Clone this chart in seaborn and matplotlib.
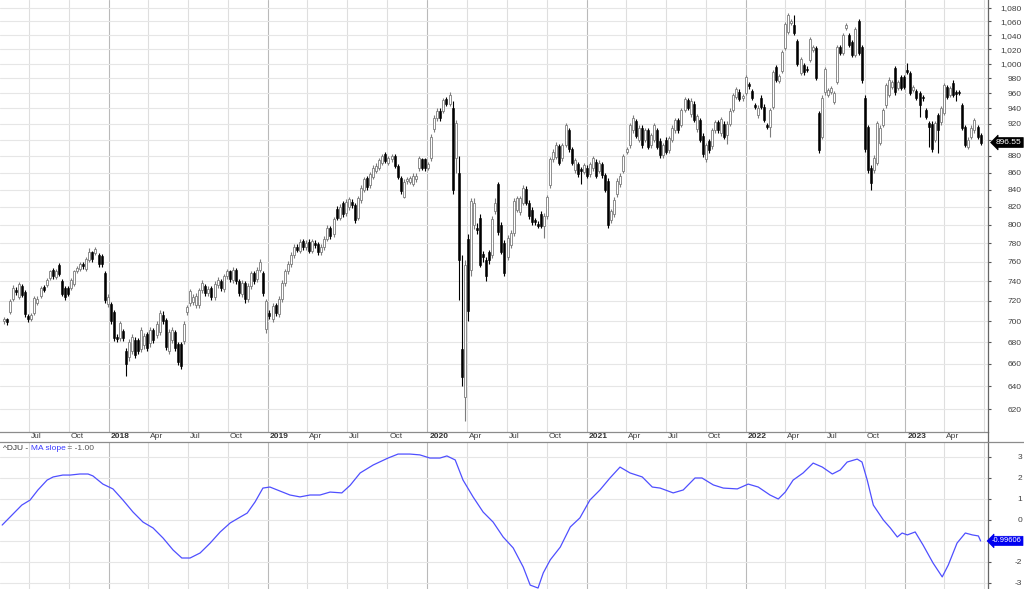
import numpy as np
import pandas as pd
import matplotlib
matplotlib.use("Agg")
import matplotlib.pyplot as plt
import matplotlib.dates as mdates
import matplotlib.ticker as mticker
import matplotlib.transforms as mtrans
from matplotlib.lines import Line2D
from matplotlib.offsetbox import TextArea, HPacker, AnchoredOffsetbox
import seaborn as sns

# ---------------- data (weekly ^DJU candles) ----------------
first_week = "2017-05-05"

opens = [
    700,702,709,722,731,724,735,729,705,702,
    708,718,725,734,736,743,752,744,757,740,
    733,733,733,737,750,753,758,753,762,770,
    769,767,766,748,717,717,709,685,684,691,
    672,666,672,682,682,674,677,688,679,692,
    687,690,706,701,672,682,690,678,678,681,
    709,718,719,716,716,731,735,728,733,724,
    736,740,732,745,750,741,752,740,727,738,
    722,735,748,742,752,748,693,708,702,716,
    707,722,738,750,758,767,776,772,782,776,
    781,772,780,779,770,776,785,796,790,818,
    808,824,813,820,826,822,808,828,840,853,
    845,855,862,866,872,882,872,876,880,868,
    854,832,850,849,847,852,865,876,876,866,
    877,913,927,937,937,952,946,940,877,859,
    674,630,785,752,800,797,808,768,762,770,
    767,815,846,800,780,765,778,791,817,814,
    825,841,825,817,805,801,812,799,810,845,
    876,879,892,877,894,912,888,863,870,864,
    861,866,858,865,873,862,870,857,850,805,
    812,835,846,862,885,893,912,923,900,915,
    900,912,893,900,912,899,881,900,887,900,
    912,925,919,938,951,932,946,913,925,905,
    876,898,892,912,922,908,920,906,920,938,
    955,962,953,960,972,963,944,931,954,942,
    918,916,942,995,976,990,1022,1045,1058,1055,
    1032,987,998,993,1005,1019,1022,934,904,961,
    958,962,948,975,1023,1015,1051,1040,1030,1012,
    1061,1023,954,916,866,863,872,896,919,944,
    958,968,994,967,982,982,991,987,964,963,
    960,955,938,921,920,900,931,922,934,968,
    958,974,961,961,944,916,891,904,912,916,
    906,
]

closes = [
    702,699,720,733,729,737,726,707,702,706,
    723,722,733,731,741,750,745,751,747,727,
    724,727,741,750,754,758,756,763,770,763,
    774,758,758,721,724,700,684,683,698,684,
    660,680,685,668,672,692,686,675,692,682,
    697,708,700,676,690,692,675,662,658,697,
    714,730,724,725,731,738,728,732,724,737,
    741,733,745,750,742,752,740,728,738,722,
    735,748,740,752,760,728,720,705,715,708,
    722,738,750,758,767,776,773,781,776,780,
    772,782,778,770,776,785,797,788,806,808,
    820,812,826,829,822,805,830,842,852,843,
    858,866,868,875,880,874,877,880,868,855,
    838,849,852,853,856,856,877,866,865,870,
    904,928,937,927,951,946,958,840,921,762,
    648,757,710,827,825,794,757,765,745,762,
    807,824,792,771,748,786,791,827,830,830,
    842,825,810,803,803,799,799,810,831,876,
    885,894,872,893,918,888,872,875,858,862,
    869,856,870,877,856,872,857,840,800,815,
    828,850,856,880,888,918,928,905,915,893,
    912,891,906,918,891,881,893,885,902,915,
    925,912,938,952,941,950,925,930,900,882,
    893,887,912,922,912,926,904,920,937,957,
    965,952,956,982,969,954,942,941,942,925,
    916,938,988,978,983,1016,1056,1070,1061,1043,
    999,1006,988,991,1035,1023,980,887,954,992,
    964,967,960,1023,1015,1040,1055,1026,1012,1049,
    1015,977,888,863,848,878,921,915,938,971,
    978,975,961,975,967,968,989,960,968,954,
    944,953,929,916,888,921,912,940,971,955,
    967,958,959,960,915,894,900,915,925,904,
    896.55,
]

highs = [
    704,703,722,736,734,739,737,731,707,708,
    725,725,735,736,743,752,754,753,759,742,
    735,735,743,752,756,760,760,765,775,772,
    776,769,768,750,727,719,711,688,700,693,
    675,683,688,685,684,695,689,690,695,694,
    700,711,710,703,693,695,692,680,680,700,
    716,732,727,728,733,741,737,735,735,740,
    744,742,747,753,752,755,754,742,741,740,
    738,751,750,755,763,750,722,711,718,718,
    725,741,753,761,770,779,779,784,785,783,
    784,785,783,781,779,788,800,799,809,821,
    823,827,829,832,829,824,833,845,855,856,
    861,869,871,878,883,885,880,883,882,870,
    856,852,855,856,859,859,880,878,878,873,
    907,931,940,940,954,955,962,950,925,880,
    767,762,790,830,830,802,812,772,765,773,
    810,830,849,803,783,789,794,830,833,833,
    845,844,828,820,808,804,815,813,834,879,
    888,897,895,896,921,915,891,878,873,867,
    872,869,873,880,876,875,873,860,853,818,
    831,853,859,883,891,921,931,926,918,918,
    915,915,909,921,915,902,896,903,905,918,
    928,928,941,955,954,953,949,933,928,908,
    896,901,915,925,925,929,923,923,940,960,
    968,965,959,985,975,966,947,944,957,945,
    921,941,991,998,986,1019,1059,1073,1064,1069,
    1035,1009,1001,996,1038,1026,1025,937,957,995,
    967,970,963,1026,1026,1043,1058,1043,1033,1052,
    1064,1026,957,919,869,881,924,918,941,974,
    981,978,997,978,985,985,1001,990,971,966,
    963,958,941,924,923,924,934,943,974,971,
    970,977,964,964,947,919,903,918,928,919,
    909,
]

lows = [
    697,696,707,720,726,722,724,704,699,700,
    706,716,723,729,734,741,742,742,745,725,
    721,725,731,735,748,751,753,751,760,760,
    767,755,755,718,714,697,681,680,681,681,
    649,663,669,665,669,671,674,672,676,679,
    684,687,697,673,669,679,672,659,655,678,
    706,715,716,713,713,728,725,725,721,721,
    733,730,729,742,739,738,737,725,724,718,
    719,732,737,739,749,725,689,702,699,705,
    704,719,735,747,755,764,770,769,773,773,
    769,769,775,767,767,773,782,785,787,805,
    805,809,810,817,819,802,805,825,837,840,
    842,852,859,863,869,871,869,873,865,852,
    835,830,847,846,844,849,862,863,862,863,
    874,910,924,924,934,943,943,835,860,721,
    640,610,700,745,795,790,755,760,740,758,
    764,812,789,768,745,762,775,788,814,811,
    822,822,807,800,800,796,796,786,807,842,
    873,876,869,874,891,885,869,860,855,846,
    858,853,855,862,853,859,854,837,796,802,
    809,832,843,859,882,890,909,902,897,890,
    897,888,890,897,888,878,878,882,884,897,
    909,909,916,935,938,929,922,910,897,879,
    873,884,889,909,909,905,901,895,917,935,
    952,949,950,957,966,951,939,928,939,922,
    913,904,939,975,973,987,1019,1042,1055,1040,
    996,984,985,988,1002,1016,977,884,901,958,
    955,959,945,972,1012,1012,1048,1023,1009,1009,
    1012,974,885,860,840,860,869,893,916,941,
    955,965,958,964,964,965,986,957,961,951,
    929,950,926,891,885,897,884,919,931,952,
    955,955,949,957,912,891,888,901,909,901,
    894,
]

# MA slope indicator (lower panel)
slope_dates = [
    "2017-05-01","2017-05-19","2017-06-15","2017-07-04","2017-07-22","2017-08-12","2017-08-26","2017-09-17","2017-10-04","2017-10-26",
    "2017-11-14","2017-11-25","2017-12-18","2018-01-10","2018-02-02","2018-02-25","2018-03-20","2018-04-12","2018-05-05","2018-05-28",
    "2018-06-17","2018-07-06","2018-07-29","2018-08-21","2018-09-13","2018-10-06","2018-10-29","2018-11-14","2018-12-02","2018-12-20",
    "2019-01-05","2019-01-28","2019-02-20","2019-03-15","2019-04-07","2019-04-30","2019-05-23","2019-06-19","2019-07-08","2019-07-31",
    "2019-08-30","2019-10-03","2019-10-26","2019-11-22","2019-12-15","2020-01-07","2020-01-30","2020-02-15","2020-03-05","2020-03-23",
    "2020-04-15","2020-05-08","2020-05-31","2020-06-23","2020-07-16","2020-08-08","2020-08-24","2020-09-11","2020-09-23","2020-10-09",
    "2020-11-01","2020-11-24","2020-12-16","2021-01-08","2021-01-31","2021-02-23","2021-03-18","2021-04-10","2021-05-08","2021-05-31",
    "2021-06-18","2021-07-18","2021-08-10","2021-09-06","2021-09-22","2021-10-18","2021-11-10","2021-12-12","2022-01-06","2022-01-29",
    "2022-02-25","2022-03-16","2022-04-01","2022-04-19","2022-05-12","2022-06-04","2022-06-25","2022-07-18","2022-08-05","2022-08-21",
    "2022-09-13","2022-09-24","2022-10-06","2022-10-20","2022-11-12","2022-11-28","2022-12-14","2022-12-25","2023-01-06","2023-01-24",
    "2023-02-11","2023-03-06","2023-03-27","2023-04-10","2023-04-30","2023-05-19","2023-06-04","2023-06-18","2023-06-23",
]
slope_values = [
    -0.24,0.14,0.71,0.95,1.43,1.9,2.05,2.14,2.14,2.19,
    2.19,2.1,1.71,1.48,0.95,0.38,-0.1,-0.38,-0.86,-1.43,
    -1.81,-1.81,-1.57,-1.1,-0.57,-0.14,0.14,0.33,0.86,1.52,
    1.57,1.38,1.19,1.1,1.19,1.19,1.33,1.29,1.65,2.24,
    2.62,2.95,3.14,3.14,3.1,2.95,2.95,3.05,2.86,1.9,
    1.1,0.38,-0.1,-0.81,-1.33,-2.24,-3.1,-3.24,-2.52,-1.9,
    -1.29,-0.33,0.1,0.95,1.43,2.0,2.52,2.24,2.05,1.57,
    1.52,1.29,1.43,2.0,2.0,1.67,1.52,1.48,1.71,1.57,
    1.19,1.0,1.33,1.9,2.24,2.71,2.52,2.19,2.38,2.76,
    2.9,2.76,1.9,0.71,0.0,-0.38,-0.81,-0.62,-0.71,-0.57,
    -1.19,-2.05,-2.71,-2.14,-1.1,-0.62,-0.71,-0.76,-0.996,
]

price_ticks = list(range(620, 1081, 20))
slope_ticks = [-3, -2, -1, 0, 1, 2, 3]
hidden_price_labels = [900]     # covered by the last-price tag
hidden_slope_labels = [-1]      # covered by the last-value tag
last_price_label = "896.55"
last_slope_label = "-0.99606"
legend_parts = ["^DJU - ", "MA slope", " = -1.00"]

# ---------------- styling ----------------
sns.set_theme(style="white")
plt.rcParams['font.family'] = ['Liberation Sans', 'DejaVu Sans']

FW, FH = 1024, 589
fig = plt.figure(figsize=(FW / 100, FH / 100), dpi=100)
fig.patch.set_facecolor("white")

AX_R = 988
MAIN_BOT = 432
LOW_TOP = 442
ax = fig.add_axes([0, 1 - MAIN_BOT / FH, AX_R / FW, MAIN_BOT / FH])
ax2 = fig.add_axes([0, 0, AX_R / FW, (FH - LOW_TOP) / FH], sharex=ax)

n = len(closes)
assert len(opens) == n and len(highs) == n and len(lows) == n
assert len(slope_dates) == len(slope_values)
weeks = pd.date_range(first_week, periods=n, freq="7D")
x = mdates.date2num(weeks.to_pydatetime())
o = np.array(opens, float); c = np.array(closes, float)
h = np.array(highs, float); l = np.array(lows, float)
up = c >= o

up_col = "#7d7d7d"
body_w = 4.6
ax.vlines(x[up], l[up], h[up], color=up_col, lw=0.8, zorder=2)
ax.vlines(x[~up], l[~up], h[~up], color="black", lw=0.8, zorder=2)
ax.bar(x[up], np.maximum(c - o, 0.4)[up], bottom=o[up], width=body_w,
       color="white", edgecolor=up_col, linewidth=0.6, zorder=3)
ax.bar(x[~up], np.maximum(o - c, 0.4)[~up], bottom=c[~up], width=body_w,
       color="black", edgecolor="black", linewidth=0.4, zorder=3)

ax.set_yscale("log")
ax.set_ylim(600.6, 1092.0)
ax.yaxis.set_major_locator(mticker.FixedLocator(price_ticks))
ax.yaxis.set_major_formatter(mticker.FuncFormatter(
    lambda v, p: "" if round(v) in hidden_price_labels else f"{v:,.0f}"))
ax.yaxis.set_minor_locator(mticker.NullLocator())

xmin = mdates.date2num(pd.Timestamp("2017-04-26").to_pydatetime())
xmax = mdates.date2num(pd.Timestamp("2023-07-10").to_pydatetime())
ax.set_xlim(xmin, xmax)
ax.xaxis.set_major_locator(mdates.YearLocator())
ax.xaxis.set_minor_locator(mdates.MonthLocator(bymonth=[4, 7, 10]))

# lower panel line
sx = mdates.date2num(pd.to_datetime(slope_dates).to_pydatetime())
sns.lineplot(x=sx, y=slope_values, ax=ax2, color="#4f4fff", linewidth=0.9, zorder=3)
ax2.set_ylim(-3.286, 3.714)
ax2.yaxis.set_major_locator(mticker.FixedLocator(slope_ticks))
ax2.yaxis.set_major_formatter(mticker.FuncFormatter(
    lambda v, p: "" if round(v) in hidden_slope_labels else f"{v:.0f}"))
ax2.set_xlim(xmin, xmax)

lab_col = "#404040"
pt = 72 / 100
for a in (ax, ax2):
    a.set_facecolor("white")
    a.grid(which="major", axis="x", color="#b9b9b9", lw=0.8, zorder=0)
    a.grid(which="minor", axis="x", color="#dedede", lw=0.8, zorder=0)
    a.grid(which="major", axis="y", color="#e6e6e6", lw=0.8, zorder=0)
    a.set_axisbelow(True)
    a.tick_params(axis="x", which="both", length=0, labelbottom=False, labeltop=False)
    a.yaxis.tick_right()
    a.tick_params(axis="y", which="major", direction="out", length=3 * pt, width=0.8,
                  color="#555555", pad=(1022 - AX_R - 3) * pt, labelsize=6, labelcolor=lab_col)
    plt.setp(a.get_yticklabels(), ha="right")
    a.set_xlabel(""); a.set_ylabel("")
    a.spines["left"].set_visible(False)
    a.spines["right"].set_color("#666666")
    a.spines["right"].set_linewidth(0.9)

ax.spines["top"].set_visible(False)
ax.spines["bottom"].set_color("#8c8c8c")
ax.spines["bottom"].set_linewidth(0.9)
ax2.spines["bottom"].set_visible(False)
ax2.spines["top"].set_color("#8c8c8c")
ax2.spines["top"].set_linewidth(0.9)

# x labels in strip under main panel
lab_tr = mtrans.blended_transform_factory(ax.transData, ax.transAxes) + \
    mtrans.ScaledTranslation(2 / 100, -1 / 100, fig.dpi_scale_trans)
for q in pd.date_range("2017-07-01", "2023-04-01", freq="QS"):
    qx = mdates.date2num(q.to_pydatetime())
    is_year = q.month == 1
    ax.text(qx, 0, str(q.year) if is_year else q.strftime("%b"), transform=lab_tr,
            ha="left", va="top", fontsize=6, color="#333333" if is_year else lab_col,
            fontweight="bold" if is_year else "normal", clip_on=False)

# connecting lines in the gap / right column
fig.add_artist(Line2D([AX_R / FW, AX_R / FW], [1 - LOW_TOP / FH, 1 - MAIN_BOT / FH],
                      transform=fig.transFigure, color="#666666", lw=0.9))
fig.add_artist(Line2D([AX_R / FW, 1.0], [1 - LOW_TOP / FH, 1 - LOW_TOP / FH],
                      transform=fig.transFigure, color="#8c8c8c", lw=0.9))

# last value tags
tag_tr = mtrans.blended_transform_factory(ax.transAxes, ax.transData)
ax.text(996 / AX_R, closes[-1], last_price_label, transform=tag_tr, ha="left", va="center",
        fontsize=6, color="white", zorder=10, clip_on=False,
        bbox=dict(boxstyle="larrow,pad=0.18", fc="black", ec="black", lw=0.5))
tag_tr2 = mtrans.blended_transform_factory(ax2.transAxes, ax2.transData)
ax2.text(992 / AX_R, slope_values[-1], last_slope_label, transform=tag_tr2, ha="left", va="center",
         fontsize=5.4, color="white", zorder=10, clip_on=False,
         bbox=dict(boxstyle="larrow,pad=0.15", fc="#0000f0", ec="#0000f0", lw=0.5))

# legend text in lower panel
parts = [TextArea(legend_parts[0], textprops=dict(color="#333333", fontsize=6)),
         TextArea(legend_parts[1], textprops=dict(color="#3a3aff", fontsize=6)),
         TextArea(legend_parts[2], textprops=dict(color="#555555", fontsize=6))]
box = HPacker(children=parts, align="baseline", pad=0, sep=0)
anch = AnchoredOffsetbox(loc="upper left", child=box, pad=0.05, borderpad=0.15, frameon=False)
ax2.add_artist(anch)

fig.savefig("out.png", dpi=100, facecolor="white")
